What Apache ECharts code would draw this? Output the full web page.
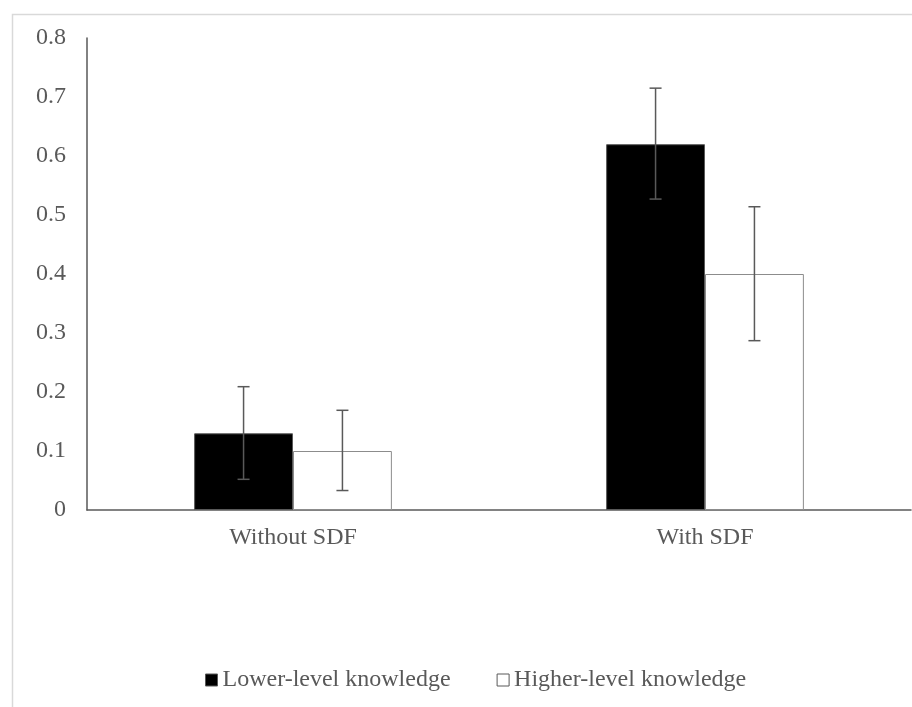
<!DOCTYPE html>
<html>
<head>
<meta charset="utf-8">
<script src="https://cdn.jsdelivr.net/npm/echarts@6/dist/echarts.min.js"></script>
<style>
html,body{margin:0;padding:0;background:#fff;}
#chart{width:912px;height:707px;}
</style>
</head>
<body>
<div id="chart"></div>
<script>
var categories = ['Without SDF', 'With SDF'];
var seriesNames = ['Lower-level knowledge', 'Higher-level knowledge'];
var lowerValues = [0.13, 0.62];
var higherValues = [0.10, 0.40];
var lowerErrLow = [0.052, 0.527];
var lowerErrHigh = [0.209, 0.715];
var higherErrLow = [0.033, 0.287];
var higherErrHigh = [0.169, 0.514];
var yTicks = [0, 0.1, 0.2, 0.3, 0.4, 0.5, 0.6, 0.7, 0.8];

var textColor = '#595959';
var fontFam = 'Liberation Serif, Times New Roman, serif';
var barFrac = 0.24;

function errorSeries(lows, highs, side) {
  var data = categories.map(function (c, i) { return [i, lows[i], highs[i]]; });
  return {
    type: 'custom',
    silent: true,
    z: 10,
    data: data,
    encode: { x: 0, y: [1, 2] },
    renderItem: function (params, api) {
      var idx = api.value(0);
      var lo = api.coord([idx, api.value(1)]);
      var hi = api.coord([idx, api.value(2)]);
      var band = api.size([1, 0])[0];
      var x = lo[0] + side * band * barFrac / 2;
      var cap = 6;
      var st = { stroke: '#595959', lineWidth: 1.5 };
      return {
        type: 'group',
        children: [
          { type: 'line', shape: { x1: x, y1: lo[1], x2: x, y2: hi[1] }, style: st },
          { type: 'line', shape: { x1: x - cap, y1: lo[1], x2: x + cap, y2: lo[1] }, style: st },
          { type: 'line', shape: { x1: x - cap, y1: hi[1], x2: x + cap, y2: hi[1] }, style: st }
        ]
      };
    }
  };
}

var chart = echarts.init(document.getElementById('chart'), null, { renderer: 'canvas' });
chart.setOption({
  animation: false,
  backgroundColor: '#fff',
  graphic: [{
    type: 'rect',
    left: 10, top: 12,
    shape: { width: 1000, height: 1000 },
    style: { fill: 'none', stroke: '#d9d9d9', lineWidth: 1.5 },
    z: -1
  }],
  grid: { left: 87, right: 1, top: 38, bottom: 197, containLabel: false },
  legend: {
    left: 200,
    top: 663,
    itemWidth: 12,
    itemHeight: 12,
    itemGap: 46,
    icon: 'rect',
    textStyle: { color: textColor, fontFamily: fontFam, fontSize: 24 },
    data: [
      { name: seriesNames[0], itemStyle: { color: '#000', borderColor: '#595959', borderWidth: 1 } },
      { name: seriesNames[1], itemStyle: { color: '#fff', borderColor: '#595959', borderWidth: 1 } }
    ]
  },
  xAxis: {
    type: 'category',
    data: categories,
    axisLine: { lineStyle: { color: '#595959', width: 1.5 } },
    axisTick: { show: false },
    axisLabel: { color: textColor, fontFamily: fontFam, fontSize: 24, margin: 16 },
    splitLine: { show: false }
  },
  yAxis: {
    type: 'value',
    min: 0, max: 0.8, interval: 0.1,
    axisLine: { show: true, lineStyle: { color: '#595959', width: 1.5 } },
    axisTick: { show: false },
    splitLine: { show: false },
    axisLabel: {
      color: textColor, fontFamily: fontFam, fontSize: 24, margin: 21,
      formatter: function (v) {
        var t = yTicks.find(function (k) { return Math.abs(k - v) < 1e-9; });
        return t === 0 ? '0' : String(+t.toFixed(1));
      }
    }
  },
  series: [
    {
      name: seriesNames[0], type: 'bar', data: lowerValues,
      barWidth: (barFrac * 100) + '%', barGap: '0%',
      itemStyle: { color: '#000', borderColor: '#595959', borderWidth: 1 }
    },
    {
      name: seriesNames[1], type: 'bar', data: higherValues,
      barWidth: (barFrac * 100) + '%', barGap: '0%',
      itemStyle: { color: '#fff', borderColor: '#8c8c8c', borderWidth: 1 }
    },
    errorSeries(lowerErrLow, lowerErrHigh, -1),
    errorSeries(higherErrLow, higherErrHigh, 1)
  ]
});
</script>
</body>
</html>
